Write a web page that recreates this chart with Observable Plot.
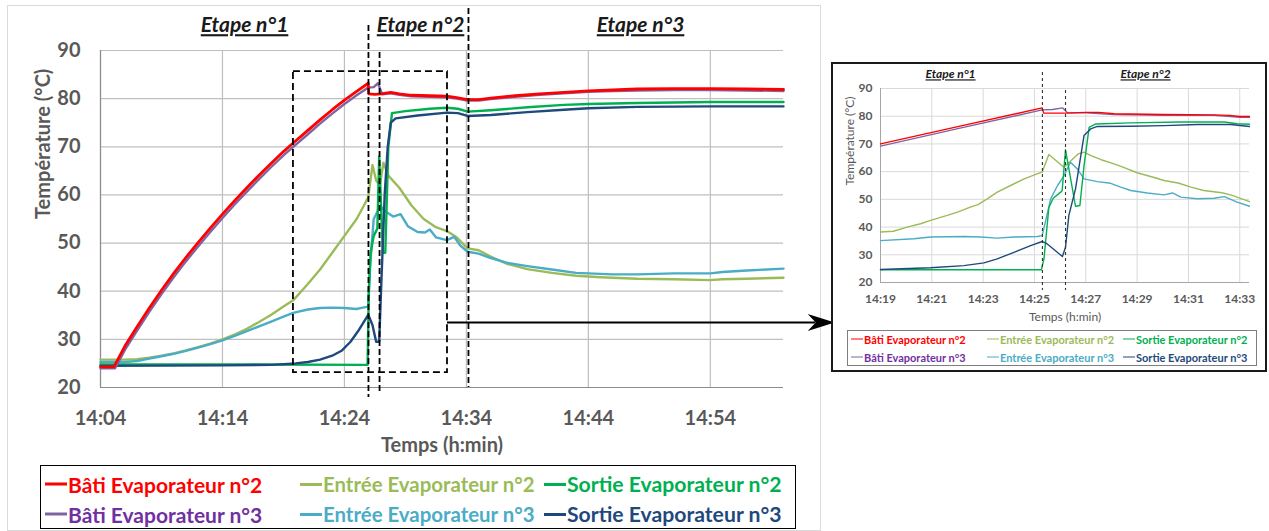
<!DOCTYPE html>
<html>
<head>
<meta charset="utf-8">
<script src="https://cdn.jsdelivr.net/npm/d3@7"></script>
<script src="https://cdn.jsdelivr.net/npm/@observablehq/plot@0.6"></script>
<style>
  html, body { margin: 0; padding: 0; background: #fff; }
  body { width: 1269px; height: 531px; position: relative; overflow: hidden; font-family: Lato, "Open Sans", sans-serif; }
  #frame { position: absolute; left: 7px; top: 5px; width: 814px; height: 526px; border: 1px solid #d9d9d9; box-sizing: border-box; }
  #main { position: absolute; left: 0; top: 0; }
  #legend { position: absolute; left: 40px; top: 465px; width: 756px; height: 64px; border: 1.5px solid #000; box-sizing: border-box; background: #fff; }
  #inset { position: absolute; left: 831px; top: 62px; background: #fff; }
  #insetBorder { position: absolute; left: 831px; top: 62px; width: 436px; height: 310px; border: 2px solid #1a1a1a; box-sizing: border-box; pointer-events: none; }
  #insetLegend { position: absolute; left: 847px; top: 330px; width: 410px; height: 36px; border: 1px solid #7f7f7f; box-sizing: border-box; background: #fff; }
  .entry { position: absolute; white-space: nowrap; font-weight: 700; display: flex; align-items: center; }
  .entry .sw { display: inline-block; }
</style>
</head>
<body>
<div id="frame"></div>
<div id="mainHolder"></div>
<div id="legend"></div>
<div id="insetHolder"></div>
<div id="insetLegend"></div>
<div id="insetBorder"></div>
<script>
// ---------- DATA (time = minutes after 14:00, value = °C) ----------
const seriesKeys  = ["bati2", "entree2", "sortie2", "bati3", "entree3", "sortie3"];
const seriesNames = ["Bâti Evaporateur n°2", "Entrée Evaporateur n°2", "Sortie Evaporateur n°2",
                     "Bâti Evaporateur n°3", "Entrée Evaporateur n°3", "Sortie Evaporateur n°3"];

const mainXTickLabels = ["14:04", "14:14", "14:24", "14:34", "14:44", "14:54"];
const insetXTickLabels = ["14:19", "14:21", "14:23", "14:25", "14:27", "14:29", "14:31", "14:33"];
const yTickValues = [20, 30, 40, 50, 60, 70, 80, 90];
const stageLabels = ["Etape n°1", "Etape n°2", "Etape n°3"];

// main chart series
const mainBati2 = [[4,24.3],[5.1,24.3],[6,28.6],[7,32.6],[8,36.5],[9,40.2],[10,43.7],[11,47],[12,50.1],[13,53.1],[14,56],[15,58.8],[16,61.5],[17,64.1],[18,66.6],[19,69],[19.8,70.8],[21,73.4],[22,75.6],[23,77.7],[24,79.7],[25,81.5],[25.95,83.2],[26.0,81],[26.5,80.9],[27,81],[27.8,81.3],[28.5,81],[29.5,80.7],[31,80.6],[32.4,80.5],[33.2,80.2],[34.1,79.8],[35,79.8],[36,80.1],[38,80.6],[40,81],[42,81.3],[44,81.6],[46,81.8],[48,82],[51,82.1],[54,82.1],[57,82],[60,81.9]];
const mainBati3 = [[4,24.0],[5.2,24.0],[6,27.8],[7,31.8],[8,35.7],[9,39.4],[10,42.9],[11,46.2],[12,49.3],[13,52.3],[14,55.2],[15,58],[16,60.7],[17,63.3],[18,65.8],[19,68.2],[19.8,70],[21,72.6],[22,74.8],[23,76.9],[24,78.9],[25,80.7],[25.95,82.3],[26.4,82.4],[26.75,83.2],[27.1,80.9],[27.8,81.1],[28.5,80.8],[29.5,80.5],[31,80.4],[32.4,80.3],[33.2,80],[34.1,79.6],[35,79.6],[36,79.9],[38,80.4],[40,80.8],[42,81.1],[44,81.4],[46,81.6],[48,81.7],[51,81.8],[54,81.8],[57,81.7],[60,81.6]];
const mainEntree2 = [[4,25.8],[6,25.8],[7,25.9],[8,26.2],[9,26.6],[10,27.1],[11,27.7],[12,28.4],[13,29.1],[14,30],[15,31],[16,32.2],[17,33.6],[18,35.1],[19,36.8],[19.8,38.1],[21,41.5],[22,44.5],[23,48],[24,51.5],[25,55],[25.6,57.8],[25.95,59.5],[26.3,66.2],[26.6,63],[26.9,62],[27.2,66.7],[27.6,64],[28.5,61.5],[29.5,57.8],[30.5,55],[31.5,53.3],[32.4,52.5],[33.2,51.2],[34.1,48.9],[35,48.5],[36,47.2],[37.3,45.7],[39,44.6],[41,43.8],[43,43.2],[45,42.9],[48,42.6],[51,42.5],[54,42.3],[55,42.5],[57,42.6],[60,42.8]];
const mainEntree3 = [[4,25.3],[6,25.3],[7,25.5],[8,26],[9,26.5],[10,27],[11,27.6],[12,28.3],[13,29],[14,29.8],[15,30.7],[16,31.7],[17,32.7],[18,33.7],[19,34.7],[19.8,35.5],[21,36.2],[22,36.5],[23,36.6],[24,36.5],[25,36.3],[25.5,36.6],[25.95,36.8],[26.1,45],[26.4,55],[26.7,56.5],[27,57.5],[27.4,56.5],[28,55.5],[28.6,56],[29.2,53.5],[30,52.3],[30.6,52.2],[31,52.8],[31.5,51.2],[32.4,50.6],[33,51.3],[33.5,49.5],[34.1,48.2],[35,47.8],[36,46.9],[37.5,45.8],[39,45.2],[41,44.5],[43,43.8],[46,43.5],[48,43.5],[51,43.7],[54,43.7],[55,44],[57,44.3],[60,44.7]];
const mainSortie2 = [[4,24.8],[14,24.8],[25.9,24.7],[26.0,40],[26.15,48],[26.4,51.5],[26.7,53],[26.85,68],[27.0,58],[27.15,48],[27.35,48],[27.6,70],[27.9,77],[29,77.4],[31,77.9],[32.4,78.1],[33.3,77.9],[34.1,77.3],[36,77.6],[39,78.2],[42,78.7],[44,78.9],[48,79.1],[54,79.3],[60,79.3]];
const mainSortie3 = [[4,24.5],[14,24.6],[18,24.7],[20,25],[21,25.3],[22,25.8],[23,26.6],[23.8,27.7],[24.5,29.5],[25.2,32],[25.95,35.1],[26.3,33],[26.6,29.5],[26.85,29.5],[27,40],[27.3,60],[27.55,70],[27.8,75],[28.2,75.9],[30,76.5],[32.4,77.1],[33.3,77],[34.1,76.4],[36,76.6],[39,77.2],[42,77.7],[44,78],[48,78.3],[54,78.4],[60,78.4]];

// inset (zoom) series
const insetBati2 = [[19,70],[22.1,76.4],[25.3,83],[25.36,81.1],[26.2,81.1],[27.0,81.4],[27.5,81.4],[28.1,80.9],[30,80.6],[32,80.5],[32.6,80.3],[33,79.9],[33.38,79.9]];
const insetBati3 = [[19,69.2],[22.1,75.7],[25.3,82.3],[25.7,82.4],[26.1,83],[26.3,81.2],[27,81.2],[28.1,80.6],[30,80.3],[32,80.3],[33,79.6],[33.38,79.6]];
const insetEntree2 = [[19,38.2],[19.5,38.5],[20.04,40],[20.56,41.2],[20.95,42.4],[21.6,44.2],[22,45.4],[22.5,47.2],[22.8,48.1],[23.16,50.2],[23.55,52.6],[24.07,55],[24.6,57.4],[25.1,59.2],[25.3,59.8],[25.56,66.2],[26.15,61.6],[26.7,66.4],[26.93,67],[27.2,65.8],[27.6,64.3],[28.1,62.8],[28.4,61.8],[29,59.6],[29.7,57.8],[30.05,56.8],[30.6,55.9],[31.1,54.4],[31.6,53.2],[32.3,52.4],[32.65,51.6],[33.38,49.2]];
const insetEntree3 = [[19,35.1],[20.3,35.8],[20.95,36.4],[22.25,36.6],[22.9,36.4],[23.55,36],[24.2,36.4],[25.1,36.6],[25.3,36.9],[25.5,44.8],[25.63,50.2],[25.9,55],[26.15,58.5],[26.4,63.4],[26.67,61],[26.93,57.4],[27.45,56.4],[27.97,55.8],[28.36,54.4],[28.75,53.2],[29.4,52.3],[30.05,51.6],[30.38,52.3],[30.7,50.8],[31.35,50.2],[32,50.4],[32.4,51],[32.9,49],[33.38,47.5]];
const insetSortie2 = [[19,24.6],[25.27,24.6],[25.37,28.5],[25.56,47],[25.73,50.4],[26.02,52.6],[26.08,53.2],[26.21,67.9],[26.6,47.5],[26.77,47.8],[26.93,62],[27.13,76],[27.39,77.2],[28.75,77.6],[30.7,77.9],[32.4,77.9],[32.9,77.3],[33.38,77.1]];
const insetSortie3 = [[19,24.7],[20.95,25.3],[22.25,26.1],[23.03,27.1],[23.55,28.5],[24.2,30.9],[24.85,33.3],[25.3,34.8],[25.5,33.9],[26.09,29.4],[26.21,32.7],[26.34,44.2],[26.6,53.8],[26.93,73],[27.19,75.4],[27.45,76.3],[28.75,76.4],[30.05,76.6],[31.35,77],[32.65,77],[33.38,76.3]];

// annotation anchors (time in minutes after 14:00, value in °C)
const mainStageTimes = [15.81, 30.24, 48.28];
const mainDividers = [[25.97, 95.2, 17.9], [26.88, 89.6, 19.0], [34.17, 98.7, 20.0]];
const mainZoomBox = [19.82, 32.45, 23.1, 85.6];
const mainArrow = [32.45, 64.2, 33.5];
const insetStageTimes = [21.73, 29.33];
const insetDividers = [[25.31, 95.8, 17.1], [26.21, 89.3, 17.1]];

// ---------- STYLE ----------
const lineColors = {bati2: "#ff0000", entree2: "#9bbb59", sortie2: "#00b050", bati3: "#8064a2", entree3: "#4bacc6", sortie3: "#1f497d"};
const textColors = {bati2: "#ff0000", entree2: "#9bbb59", sortie2: "#00b050", bati3: "#7030a0", entree3: "#4bacc6", sortie3: "#1f497d"};
const drawOrder = ["entree2", "entree3", "sortie2", "sortie3", "bati3", "bati2"];
const FONT = "Lato, 'Open Sans', sans-serif";

const mainData = {bati2: mainBati2, bati3: mainBati3, entree2: mainEntree2, entree3: mainEntree3, sortie2: mainSortie2, sortie3: mainSortie3};
const insetData = {bati2: insetBati2, bati3: insetBati3, entree2: insetEntree2, entree3: insetEntree3, sortie2: insetSortie2, sortie3: insetSortie3};

const toMin = s => { const [h, m] = s.split(":").map(Number); return (h - 14) * 60 + m; };
const fmtMin = m => "14:" + String(Math.round(m)).padStart(2, "0");

const mainXTicks = mainXTickLabels.map(toMin);
const insetXTicks = insetXTickLabels.map(toMin);

// stealth arrow head symbol (tip at origin, pointing right)
const stealth = { draw(ctx) { ctx.moveTo(0, 0); ctx.lineTo(-27, -8.5); ctx.lineTo(-19, 0); ctx.lineTo(-27, 8.5); ctx.closePath(); } };

// ---------- MAIN CHART ----------
const mainPlot = Plot.plot({
  width: 1269, height: 531,
  marginLeft: 100, marginRight: 486, marginTop: 50, marginBottom: 144,
  style: { fontFamily: FONT, background: "transparent", overflow: "visible" },
  x: { domain: [4, 60], axis: null },
  y: { domain: [20, 90], axis: null },
  marks: [
    Plot.gridX(mainXTicks, { stroke: "#bfbfbf", strokeOpacity: 1, strokeWidth: 1.2 }),
    Plot.gridY(yTickValues, { stroke: "#bfbfbf", strokeOpacity: 1, strokeWidth: 1.2 }),
    Plot.ruleY([20], { stroke: "#8c8c8c", strokeWidth: 1.2 }),
    Plot.ruleX([4], { stroke: "#8c8c8c", strokeWidth: 1.2 }),
    Plot.axisX({ ticks: mainXTicks, tickFormat: fmtMin, tickSize: 0, tickPadding: 23, fontSize: 20, fontWeight: "bold", color: "#595959", label: null }),
    Plot.axisY({ ticks: yTickValues, tickSize: 0, tickPadding: 20, fontSize: 20, fontWeight: "bold", color: "#595959", label: null }),
    Plot.text(["Température (°C)"], { frameAnchor: "left", rotate: -90, dx: -57, lineAnchor: "middle", fontSize: 20, fontWeight: "bold", fill: "#595959" }),
    Plot.text(["Temps (h:min)"], { frameAnchor: "bottom", dy: 58, lineAnchor: "middle", fontSize: 20, fontWeight: "bold", fill: "#595959" }),
    ...drawOrder.map(k => Plot.line(mainData[k], { x: d => d[0], y: d => d[1], stroke: lineColors[k], strokeWidth: k === "bati2" ? 2.8 : 2.4 })),
    Plot.rect([mainZoomBox], { x1: d => d[0], x2: d => d[1], y1: d => d[2], y2: d => d[3], fill: "none", stroke: "#000", strokeWidth: 1.8, strokeDasharray: "7,4" }),
    Plot.ruleX(mainDividers, { x: d => d[0], y1: d => d[1], y2: d => d[2], stroke: "#000", strokeWidth: 1.8, strokeDasharray: "6,3" }),
    Plot.ruleY([mainArrow], { y: d => d[2], x1: d => d[0], x2: d => d[1] - 1.55, stroke: "#000", strokeWidth: 2 }),
    Plot.dot([mainArrow], { x: d => d[1], y: d => d[2], symbol: stealth, fill: "#000", stroke: "none", r: 10 }),
    Plot.text(stageLabels, { x: (d, i) => mainStageTimes[i], y: 95.2, fontSize: 21, fontWeight: "bold", fontStyle: "italic", fill: "#1a1a1a" })
  ]
});
document.getElementById("mainHolder").appendChild(mainPlot);
mainPlot.id = "main";

// ---------- INSET CHART ----------
const insetPlot = Plot.plot({
  width: 436, height: 310,
  marginLeft: 49, marginRight: 18, marginTop: 26, marginBottom: 90,
  style: { fontFamily: FONT, background: "#fff", overflow: "visible" },
  x: { domain: [19, 33.38], axis: null },
  y: { domain: [20, 90], axis: null },
  marks: [
    Plot.gridX(insetXTicks, { stroke: "#d9d9d9", strokeOpacity: 1 }),
    Plot.gridY(yTickValues, { stroke: "#d9d9d9", strokeOpacity: 1 }),
    Plot.ruleY([20], { stroke: "#a6a6a6" }),
    Plot.ruleX([19], { stroke: "#a6a6a6" }),
    Plot.axisX({ ticks: insetXTicks, tickFormat: fmtMin, tickSize: 0, tickPadding: 12, fontSize: 12, fontWeight: "bold", color: "#595959", label: null }),
    Plot.axisY({ ticks: yTickValues, tickSize: 0, tickPadding: 8, fontSize: 12, fontWeight: "bold", color: "#595959", label: null }),
    Plot.text(["Température (°C)"], { frameAnchor: "left", rotate: -90, dx: -30, lineAnchor: "middle", fontSize: 12, fill: "#595959" }),
    Plot.text(["Temps (h:min)"], { frameAnchor: "bottom", dy: 35, lineAnchor: "middle", fontSize: 12, fill: "#595959" }),
    ...drawOrder.map(k => Plot.line(insetData[k], { x: d => d[0], y: d => d[1], stroke: lineColors[k], strokeWidth: 1.4 })),
    Plot.ruleX(insetDividers, { x: d => d[0], y1: d => d[1], y2: d => d[2], stroke: "#333", strokeWidth: 1.1, strokeDasharray: "3,3" }),
    Plot.text(stageLabels.slice(0, 2), { x: (d, i) => insetStageTimes[i], y: 95.05, fontSize: 12, fontWeight: "bold", fontStyle: "italic", fill: "#1a1a1a" })
  ]
});
document.getElementById("insetHolder").appendChild(insetPlot);
insetPlot.id = "inset";

// underline stage titles
for (const svg of [mainPlot, insetPlot]) {
  d3.select(svg).selectAll("text").filter(function () { return this.textContent.startsWith("Etape"); })
    .style("text-decoration", "underline");
}

// ---------- LEGENDS ----------
function buildLegend(el, cols, rows, fontSizes, swW, swH) {
  seriesKeys.forEach((k, i) => {
    const e = document.createElement("div");
    e.className = "entry";
    e.style.left = cols[i % 3] + "px";
    e.style.top = rows[Math.floor(i / 3)] + "px";
    e.style.fontSize = fontSizes[i % 3] + "px";
    e.style.color = textColors[k];
    e.style.transform = "translateY(-50%)";
    const sw = document.createElement("span");
    sw.className = "sw";
    sw.style.width = swW + "px";
    sw.style.height = swH + "px";
    sw.style.background = lineColors[k];
    sw.style.marginRight = "1px";
    const t = document.createElement("span");
    t.textContent = seriesNames[i];
    e.appendChild(sw); e.appendChild(t);
    el.appendChild(e);
  });
}
buildLegend(document.getElementById("legend"), [4, 259, 503], [18, 48], [21, 20.4, 21.2], 22, 3);
buildLegend(document.getElementById("insetLegend"), [3, 139, 275], [8, 26], [11, 11, 11], 12, 1.5);
</script>
</body>
</html>
